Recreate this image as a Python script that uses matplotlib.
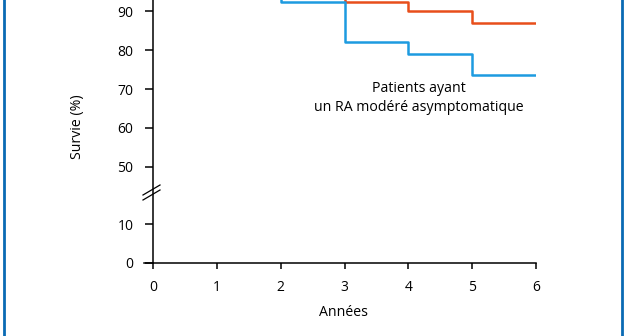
import numpy as np
import matplotlib
matplotlib.use("Agg")
import matplotlib.pyplot as plt
from matplotlib.lines import Line2D

plt.rcParams['font.family'] = ['Open Sans', 'DejaVu Sans']

# survival data (years, % alive)
years = [0, 1, 2, 3, 4, 5, 6]
surv_ref = [100, 100, 100, 92.3, 90.2, 87.0, 87.0]
surv_ra = [100, 100, 92.3, 82.0, 79.0, 73.7, 73.7]

xticks = [0, 1, 2, 3, 4, 5, 6]
yticks = [0, 10, 50, 60, 70, 80, 90]

annot = "Patients ayant\nun RA modéré asymptomatique"

orange = '#e84e1b'
blue = '#1d9be0'
frame_blue = '#0a6ab4'

# the axis is cut between 10 and 50, squeeze that gap
GAP = 25.2
CUT = 25.0


def fwd(y):
    y = np.asarray(y, dtype=float)
    return np.where(y > CUT, y - GAP, y)


def inv(y):
    y = np.asarray(y, dtype=float)
    return np.where(y > CUT - GAP, y + GAP, y)


W, H = 628, 336
fig = plt.figure(figsize=(W / 100, H / 100), dpi=100)
fig.patch.set_facecolor('white')

ax = fig.add_axes([153 / W, 73 / H, (536 - 153) / W, 263 / H])
ax.set_yscale('function', functions=(fwd, inv))

ax.step(years, surv_ref, where='post', color=orange, lw=1.8, zorder=3)
ax.step(years, surv_ra, where='post', color=blue, lw=1.8, zorder=4)

ax.set_xlim(0, 6)
ax.set_ylim(0, 92.93)
ax.set_xticks(xticks)
ax.set_xticklabels([str(t) for t in xticks])
ax.set_yticks(yticks)
ax.set_yticklabels([str(t) for t in yticks])
ax.yaxis.set_minor_locator(matplotlib.ticker.NullLocator())

for s in ['top', 'right']:
    ax.spines[s].set_visible(False)
ax.spines['left'].set_linewidth(1.1)
ax.spines['bottom'].set_linewidth(1.1)
ax.spines['bottom'].set_bounds(0, 6)
ax.tick_params(axis='y', length=6, width=1.1, pad=8, labelsize=10)
ax.tick_params(axis='x', length=4.3, width=1.1, pad=8, labelsize=10)

# extend x-axis line to the left under the y tick
fig.add_artist(Line2D([144 / W, 153 / W], [73 / H, 73 / H], color='black', lw=1.1))

# break marks on the y axis
for dy in (0, 5):
    fig.add_artist(Line2D([143 / W, 160 / W],
                          [1 - (200 - dy) / H, 1 - (190 - dy) / H],
                          color='black', lw=0.9))

ax.text(4.17, 67.7, annot, ha='center', va='center', fontsize=10.2,
        linespacing=1.4)

fig.text(78 / W, 1 - 127 / H, 'Survie (%)', rotation=90, ha='center',
         va='center', fontsize=10.2)
fig.text(343.5 / W, 1 - 313 / H, 'Années', ha='center', va='center',
         fontsize=10.2)

# side borders of the box
for xp in (4, 622):
    fig.add_artist(Line2D([xp / W, xp / W], [0, 1], color=frame_blue, lw=2))

fig.savefig('out.png', dpi=100)
